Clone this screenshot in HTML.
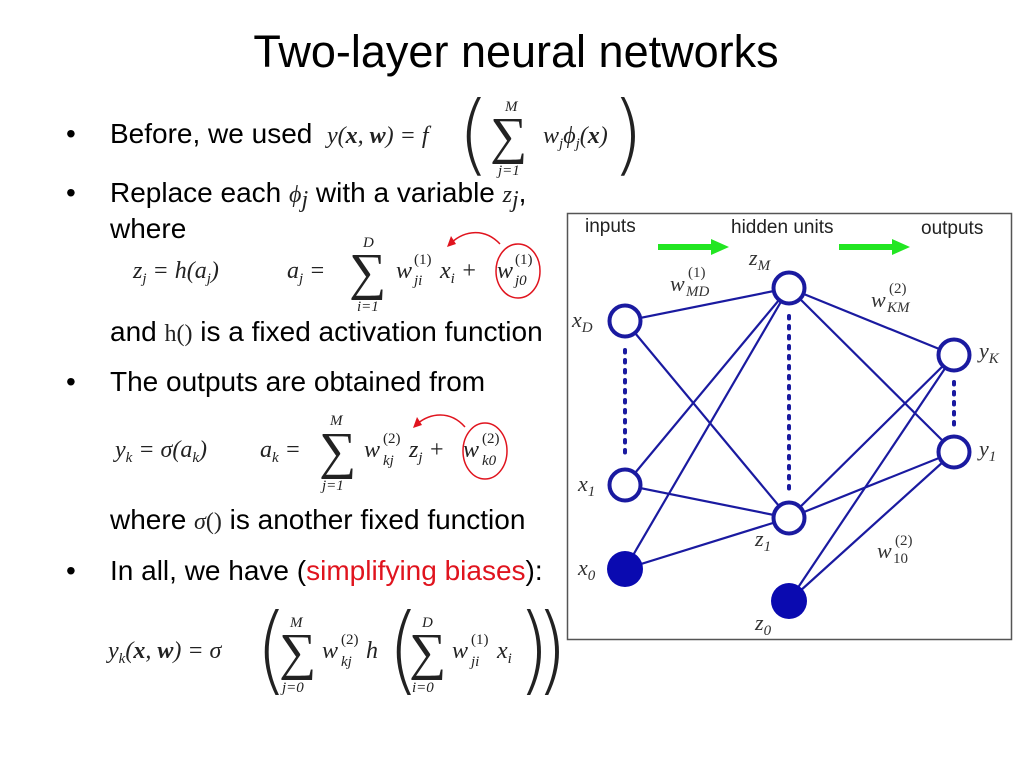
<!DOCTYPE html>
<html><head><meta charset="utf-8"><style>
html,body{margin:0;padding:0;background:#fff;}
svg{display:block}
.t{font-family:"Liberation Sans",sans-serif;font-size:28px;fill:#000}
.m{font-family:"Liberation Serif",serif;font-style:italic;font-size:24px;fill:#222}
.r{font-family:"Liberation Serif",serif;font-size:24px;fill:#222}
.s{font-family:"Liberation Serif",serif;font-size:15px;fill:#222}
.si{font-family:"Liberation Serif",serif;font-style:italic;font-size:15px;fill:#222}
.big{font-family:"Liberation Serif",serif;font-size:52px;fill:#222}
.par{font-family:"DejaVu Sans",sans-serif;font-size:80px;fill:#222;font-weight:100}
.d{font-family:"Liberation Sans",sans-serif;font-size:19px;fill:#222}
.dm{font-family:"Liberation Serif",serif;font-style:italic;font-size:22px;fill:#333}
.ds{font-family:"Liberation Serif",serif;font-style:italic;font-size:15px;fill:#333}
.dn{font-family:"Liberation Serif",serif;font-size:15px;fill:#333}
</style></head><body>
<svg width="1024" height="768" viewBox="0 0 1024 768" xmlns="http://www.w3.org/2000/svg">
<text x="516" y="67" text-anchor="middle" style="font-family:'Liberation Sans',sans-serif;font-size:45px">Two-layer neural networks</text>

<text class="t" x="66" y="143">•</text>
<text class="t" x="110" y="143">Before, we used</text>
<text class="t" x="66" y="202">•</text>
<text class="t" x="110" y="202">Replace each <tspan class="m" font-size="28">ϕ</tspan><tspan class="m" font-size="16" dy="5">j</tspan><tspan dy="-5"> with a variable </tspan><tspan class="m" font-size="28">z</tspan><tspan class="m" font-size="16" dy="5">j</tspan><tspan dy="-5">,</tspan></text>
<text class="t" x="110" y="238">where</text>
<text class="t" x="110" y="341">and <tspan class="r" font-size="27">h()</tspan> is a fixed activation function</text>
<text class="t" x="66" y="391">•</text>
<text class="t" x="110" y="391">The outputs are obtained from</text>
<text class="t" x="110" y="529">where <tspan class="m" font-size="28">σ</tspan><tspan class="r" font-size="27">()</tspan> is another fixed function</text>
<text class="t" x="66" y="580">•</text>
<text class="t" x="110" y="580">In all, we have (<tspan fill="#e0141e">simplifying biases</tspan>):</text>

<!-- formula 1 -->
<text class="m" x="327" y="143">y<tspan class="r">(</tspan><tspan class="r" font-weight="bold">x</tspan><tspan class="r">, </tspan><tspan class="r" font-weight="bold">w</tspan><tspan class="r">) = </tspan>f</text>
<text class="par" x="458" y="162" transform="translate(458 140) scale(1 1.1) translate(-458 -140)">(</text>
<text class="big" x="490" y="153">∑</text>
<text class="si" x="505" y="111">M</text>
<text class="si" x="498" y="175">j<tspan class="s">=1</tspan></text>
<text class="m" x="543" y="143">w<tspan font-size="15" dy="5">j</tspan><tspan dy="-5">ϕ</tspan><tspan font-size="15" dy="5">j</tspan><tspan class="r" dy="-5">(</tspan><tspan class="r" font-weight="bold">x</tspan><tspan class="r">)</tspan></text>
<text class="par" x="612" y="162" transform="translate(612 140) scale(1 1.1) translate(-612 -140)">)</text>

<!-- formula 2 -->
<text class="m" x="133" y="278">z<tspan font-size="15" dy="5">j</tspan><tspan class="r" dy="-5"> = </tspan>h<tspan class="r">(</tspan>a<tspan font-size="15" dy="5">j</tspan><tspan class="r" dy="-5">)</tspan></text>
<text class="m" x="287" y="278">a<tspan font-size="15" dy="5">j</tspan><tspan class="r" dy="-5"> =</tspan></text>
<text class="big" x="349" y="289">∑</text>
<text class="si" x="363" y="247">D</text>
<text class="si" x="357" y="311">i<tspan class="s">=1</tspan></text>
<text class="m" x="396" y="278">w</text><text class="s" x="414" y="264">(1)</text><text class="si" x="414" y="285">ji</text>
<text class="m" x="440" y="278">x<tspan font-size="15" dy="5">i</tspan><tspan class="r" dy="-5"> +</tspan></text>
<text class="m" x="497" y="278">w</text><text class="s" x="515" y="264">(1)</text><text class="si" x="515" y="285">j<tspan class="s">0</tspan></text>
<ellipse cx="518" cy="271" rx="22" ry="27" fill="none" stroke="#e0141e" stroke-width="1.5"/>
<path d="M500 244 C485 228 465 230 451 243" fill="none" stroke="#e0141e" stroke-width="1.5"/>
<path d="M447 247 L451 236 L456 244 Z" fill="#e0141e"/>

<!-- formula 3 -->
<text class="m" x="115" y="457">y<tspan font-size="15" dy="5">k</tspan><tspan class="r" dy="-5"> = </tspan>σ<tspan class="r">(</tspan>a<tspan font-size="15" dy="5">k</tspan><tspan class="r" dy="-5">)</tspan></text>
<text class="m" x="260" y="457">a<tspan font-size="15" dy="5">k</tspan><tspan class="r" dy="-5"> =</tspan></text>
<text class="big" x="319" y="468">∑</text>
<text class="si" x="330" y="425">M</text>
<text class="si" x="322" y="490">j<tspan class="s">=1</tspan></text>
<text class="m" x="364" y="457">w</text><text class="s" x="383" y="443">(2)</text><text class="si" x="383" y="465">kj</text>
<text class="m" x="409" y="457">z<tspan font-size="15" dy="5">j</tspan><tspan class="r" dy="-5"> +</tspan></text>
<text class="m" x="463" y="457">w</text><text class="s" x="482" y="443">(2)</text><text class="si" x="482" y="465">k<tspan class="s">0</tspan></text>
<ellipse cx="485" cy="451" rx="22" ry="28" fill="none" stroke="#e0141e" stroke-width="1.5"/>
<path d="M465 427 C450 410 430 413 417 424" fill="none" stroke="#e0141e" stroke-width="1.5"/>
<path d="M413 428 L417 417 L422 425 Z" fill="#e0141e"/>

<!-- formula 4 -->
<text class="m" x="108" y="658">y<tspan font-size="15" dy="5">k</tspan><tspan class="r" dy="-5">(</tspan><tspan class="r" font-weight="bold">x</tspan><tspan class="r">, </tspan><tspan class="r" font-weight="bold">w</tspan><tspan class="r">) = </tspan>σ</text>
<text class="par" x="256" y="678" transform="translate(256 655) scale(1 1.2) translate(-256 -655)">(</text>
<text class="big" x="279" y="669">∑</text>
<text class="si" x="290" y="627">M</text>
<text class="si" x="282" y="692">j<tspan class="s">=0</tspan></text>
<text class="m" x="322" y="658">w</text><text class="s" x="341" y="644">(2)</text><text class="si" x="341" y="666">kj</text>
<text class="m" x="366" y="658">h</text>
<text class="par" x="388" y="678" transform="translate(388 655) scale(1 1.2) translate(-388 -655)">(</text>
<text class="big" x="409" y="669">∑</text>
<text class="si" x="422" y="627">D</text>
<text class="si" x="412" y="692">i<tspan class="s">=0</tspan></text>
<text class="m" x="452" y="658">w</text><text class="s" x="471" y="644">(1)</text><text class="si" x="471" y="666">ji</text>
<text class="m" x="497" y="658">x<tspan font-size="15" dy="5">i</tspan></text>
<text class="par" x="518" y="678" transform="translate(518 655) scale(1 1.2) translate(-518 -655)">)</text>
<text class="par" x="536" y="678" transform="translate(536 655) scale(1 1.2) translate(-536 -655)">)</text>

<!-- diagram -->
<rect x="567.5" y="213.5" width="444" height="426" fill="#fff" stroke="#555" stroke-width="1.5"/>
<text class="d" x="585" y="232">inputs</text>
<text class="d" x="731" y="233">hidden units</text>
<text class="d" x="921" y="234">outputs</text>
<path d="M658 247 H713" stroke="#22e622" stroke-width="6"/><path d="M711 239 L729 247 L711 255 Z" fill="#22e622"/>
<path d="M839 247 H894" stroke="#22e622" stroke-width="6"/><path d="M892 239 L910 247 L892 255 Z" fill="#22e622"/>
<g stroke="#1a1aa0" stroke-width="2.2" fill="none">
<line x1="625" y1="321" x2="789" y2="288"/>
<line x1="625" y1="321" x2="789" y2="518"/>
<line x1="625" y1="485" x2="789" y2="288"/>
<line x1="625" y1="485" x2="789" y2="518"/>
<line x1="625" y1="569" x2="789" y2="288"/>
<line x1="625" y1="569" x2="789" y2="518"/>
<line x1="789" y1="288" x2="954" y2="355"/>
<line x1="789" y1="288" x2="954" y2="452"/>
<line x1="789" y1="518" x2="954" y2="355"/>
<line x1="789" y1="518" x2="954" y2="452"/>
<line x1="789" y1="601" x2="954" y2="355"/>
<line x1="789" y1="601" x2="954" y2="452"/>
</g>
<g stroke="#1a1aa0" stroke-width="4" stroke-dasharray="2.5 7.5" stroke-linecap="round">
<line x1="625" y1="350" x2="625" y2="458"/>
<line x1="789" y1="316" x2="789" y2="491"/>
<line x1="954" y1="382" x2="954" y2="426"/>
</g>
<g stroke="#1a1aa0" stroke-width="4" fill="#fff">
<circle cx="625" cy="321" r="15.5"/>
<circle cx="625" cy="485" r="15.5"/>
<circle cx="789" cy="288" r="15.5"/>
<circle cx="789" cy="518" r="15.5"/>
<circle cx="954" cy="355" r="15.5"/>
<circle cx="954" cy="452" r="15.5"/>
</g>
<circle cx="625" cy="569" r="18" fill="#0a0ab0"/>
<circle cx="789" cy="601" r="18" fill="#0a0ab0"/>
<text class="dm" x="572" y="327">x<tspan class="ds" dy="5">D</tspan></text>
<text class="dm" x="578" y="491">x<tspan class="dn" dy="5">1</tspan></text>
<text class="dm" x="578" y="575">x<tspan class="dn" dy="5">0</tspan></text>
<text class="dm" x="749" y="265">z<tspan class="ds" dy="5">M</tspan></text>
<text class="dm" x="755" y="546">z<tspan class="dn" dy="5">1</tspan></text>
<text class="dm" x="755" y="630">z<tspan class="dn" dy="5">0</tspan></text>
<text class="dm" x="979" y="358">y<tspan class="ds" dy="5">K</tspan></text>
<text class="dm" x="979" y="456">y<tspan class="dn" dy="5">1</tspan></text>
<text class="dm" x="670" y="291">w</text><text class="dn" x="688" y="277">(1)</text><text class="ds" x="686" y="296">MD</text>
<text class="dm" x="871" y="307">w</text><text class="dn" x="889" y="293">(2)</text><text class="ds" x="887" y="312">KM</text>
<text class="dm" x="877" y="558">w</text><text class="dn" x="895" y="545">(2)</text><text class="dn" x="893" y="563">10</text>
</svg>
</body></html>
